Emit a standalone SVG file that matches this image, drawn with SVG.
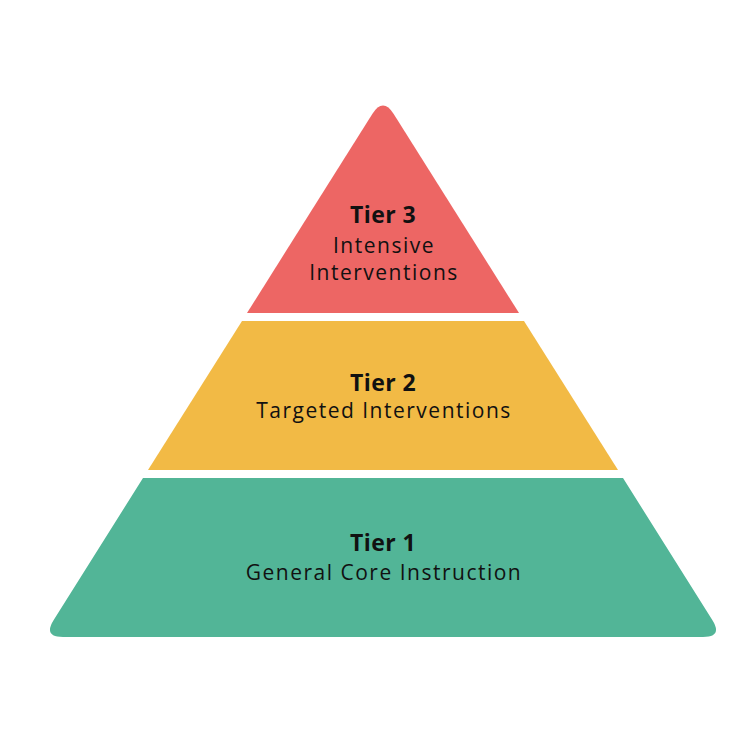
<svg xmlns="http://www.w3.org/2000/svg" width="754" height="750" viewBox="0 0 754 750">
<style>
.t{font-family:"Open Sans","Liberation Sans",sans-serif;fill:#111;text-anchor:middle}
.h{font-size:23px;font-weight:700;letter-spacing:0.4px}
.s{font-size:21px;font-weight:400;letter-spacing:1.5px}
</style>
<rect width="754" height="750" fill="#fff"/>
<g id="tier3">
<path d="M247 313 L372.3 113.9 Q383 97 393.7 113.9 L519 313 Z" fill="#ED6664"/>
<text class="t h" x="383" y="223">Tier 3</text>
<text class="t s" x="384" y="253">Intensive</text>
<text class="t s" x="384" y="280">Interventions</text>
</g>
<g id="tier2">
<path d="M148 470 L242 321 L524 321 L618 470 Z" fill="#F2BA45"/>
<text class="t h" x="383" y="391">Tier 2</text>
<text class="t s" x="384" y="418">Targeted Interventions</text>
</g>
<g id="tier1">
<path d="M143 478 L623 478 L712.3 620.1 Q723 637 703 637 L63 637 Q43 637 53.7 620.1 Z" fill="#52B597"/>
<text class="t h" x="383" y="551">Tier 1</text>
<text class="t s" x="384" y="580">General Core Instruction</text>
</g>
</svg>
